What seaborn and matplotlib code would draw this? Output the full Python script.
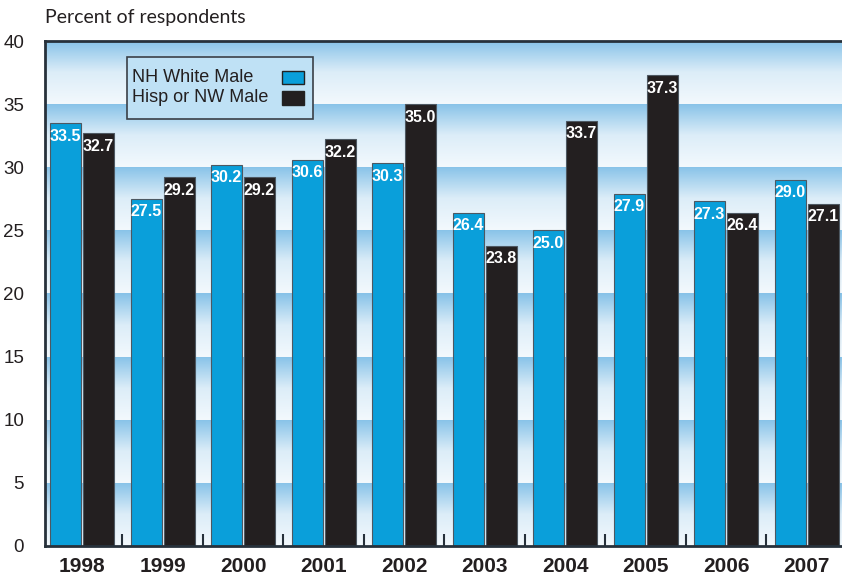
import numpy as np
import pandas as pd
import matplotlib
matplotlib.use("Agg")
import matplotlib.pyplot as plt
from matplotlib.colors import LinearSegmentedColormap
from matplotlib.patches import Rectangle
import seaborn as sns

# Survey results by year
years = ["1998", "1999", "2000", "2001", "2002", "2003", "2004", "2005", "2006", "2007"]
series = ["NH White Male", "Hisp or NW Male"]
nh_white = [33.5, 27.5, 30.2, 30.6, 30.3, 26.4, 25.0, 27.9, 27.3, 29.0]
hisp_nw = [32.7, 29.2, 29.2, 32.2, 35.0, 23.8, 33.7, 37.3, 26.4, 27.1]
y_ticks = [0, 5, 10, 15, 20, 25, 30, 35, 40]
y_title = "Percent of respondents"

BLUE = "#0a9fda"
BLACK = "#231f20"
INK = "#231f20"
FRAME = "#27313b"

df = pd.DataFrame({
    "year": years * 2,
    "group": [series[0]] * len(years) + [series[1]] * len(years),
    "pct": nh_white + hisp_nw,
})

sns.set_theme(style="white")
plt.rcParams["font.family"] = ["Liberation Sans", "DejaVu Sans"]
NARROW = ["Liberation Sans Narrow", "Liberation Sans", "DejaVu Sans"]

W, H = 842, 576
fig = plt.figure(figsize=(W / 100, H / 100), dpi=100)
ax = fig.add_axes([45 / W, 30 / H, (W - 45) / W, 505 / H])


def fpx(x, y):
    """Figure pixel coordinates (origin top-left) to figure fraction."""
    return x / W, 1 - y / H


xmin, xmax = -0.46, len(years) - 1 + 0.44

# Banded gradient background: each 5-point band fades from blue (top) to white (bottom)
grad = np.linspace(0, 1, 256).reshape(-1, 1)
band_cmap = LinearSegmentedColormap.from_list("band", ["#f3f9fd", "#dcedf8", "#86c2e8"])
for lo, hi in zip(y_ticks[:-1], y_ticks[1:]):
    ax.imshow(grad, cmap=band_cmap, extent=(xmin, xmax, lo, hi), origin="lower",
              aspect="auto", interpolation="bilinear", zorder=0)

sns.barplot(data=df, x="year", y="pct", hue="group", hue_order=series,
            palette=[BLUE, BLACK], saturation=1, width=0.82, gap=0.06,
            edgecolor="#4d5862", linewidth=0.8, legend=False, ax=ax, zorder=3)

# Value labels inside the top of each bar
for container, values in zip(ax.containers, [nh_white, hisp_nw]):
    for rect, v in zip(container.patches, values):
        ax.annotate(f"{v:.1f}", xy=(rect.get_x() + rect.get_width() / 2, v),
                    xytext=(0, -4), textcoords="offset points", ha="center", va="top",
                    color="white", fontsize=11.5, fontweight="bold", family=NARROW,
                    zorder=5)

ax.set_xlim(xmin, xmax)
ax.set_ylim(0, 40)
ax.set_xlabel("")
ax.set_ylabel("")

ax.set_yticks(y_ticks)
ax.set_yticklabels([str(t) for t in y_ticks])
ax.tick_params(axis="y", length=0, pad=15, labelsize=13.5, labelcolor=INK)

ax.set_xticks(range(len(years)))
ax.set_xticklabels(years, fontsize=15, fontweight="bold", family=NARROW, color=INK)
ax.tick_params(axis="x", which="major", length=0, pad=8)
ax.set_xticks([i + 0.5 for i in range(len(years) - 1)], minor=True)
ax.tick_params(axis="x", which="minor", direction="in", length=9, width=1.5,
               color=FRAME, bottom=True)

for side in ["left", "top", "bottom"]:
    ax.spines[side].set_visible(True)
    ax.spines[side].set_color(FRAME)
    ax.spines[side].set_linewidth(2)
    ax.spines[side].set_zorder(6)
ax.spines["right"].set_visible(False)

# Axis title above the plot
fig.text(*fpx(45, 18), y_title, ha="left", va="center", fontsize=14,
         color=INK, family=["Lato", "DejaVu Sans"])

# Legend box with labels on the left and swatches on the right
x0, y0 = fpx(127, 119)
x1, y1 = fpx(313, 57)
fig.patches.append(Rectangle((x0, y0), x1 - x0, y1 - y0, transform=fig.transFigure,
                             facecolor="#bfe1f5", edgecolor="#3a4047", linewidth=1.2,
                             zorder=10))
for label, color, yc in zip(series, [BLUE, BLACK], [77.5, 98]):
    fig.text(*fpx(132, yc), label, ha="left", va="center", fontsize=13,
             color=INK, zorder=11)
    sx0, sy0 = fpx(282, yc + 6.5)
    sx1, sy1 = fpx(304, yc - 6.5)
    fig.patches.append(Rectangle((sx0, sy0), sx1 - sx0, sy1 - sy0,
                                 transform=fig.transFigure, facecolor=color,
                                 edgecolor="#222222", linewidth=1.0, zorder=11))

fig.savefig("out.png", dpi=100)
